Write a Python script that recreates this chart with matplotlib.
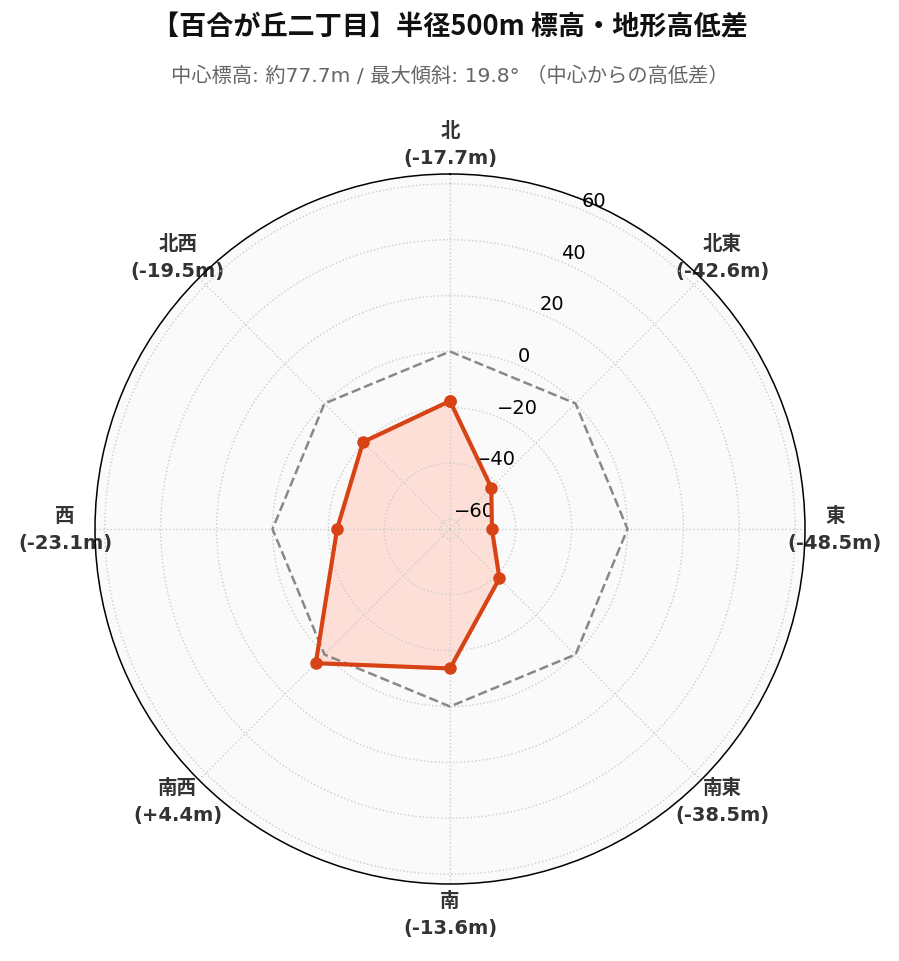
import numpy as np
import matplotlib
matplotlib.use("Agg")
import matplotlib.pyplot as plt

plt.rcParams['font.family'] = ['Noto Sans CJK JP', 'DejaVu Sans']

directions = ["北", "北東", "東", "南東", "南", "南西", "西", "北西"]
diffs = [-17.7, -42.6, -48.5, -38.5, -13.6, 4.4, -23.1, -19.5]
rticks = [-60, -40, -20, 0, 20, 40, 60]
r_min, r_max = -63.5, 63.5
title = "【百合が丘二丁目】半径500m 標高・地形高低差"
subtitle = "中心標高: 約77.7m / 最大傾斜: 19.8° （中心からの高低差）"

W, H = 899, 962
fig = plt.figure(figsize=(W / 100, H / 100), dpi=100)
ax = fig.add_axes([95 / W, 77 / H, 710 / W, 710 / H], projection='polar')
ax.set_facecolor('#fafafa')
ax.set_theta_zero_location('N')
ax.set_theta_direction(-1)

n = len(directions)
theta = np.linspace(0, 2 * np.pi, n, endpoint=False)
tc = np.concatenate([theta, theta[:1]])
vc = np.concatenate([diffs, diffs[:1]])

ax.fill(tc, vc, color='#fddfd7', zorder=1, linewidth=0)
ax.plot(tc, np.zeros_like(tc), linestyle='--', color='#888888', linewidth=1.8, zorder=3)
ax.plot(tc, vc, color='#d84315', linewidth=3.0, marker='o', markersize=8, zorder=4)

ax.set_ylim(r_min, r_max)
ax.set_yticks(rticks)
ax.set_rlabel_position(22.5)
ax.tick_params(axis='y', labelsize=14)
for lab in ax.get_yticklabels():
    lab.set_fontfamily('DejaVu Sans')

labels = [f"{d}\n({v:+.1f}m)" if v > 0 else f"{d}\n({v:.1f}m)" for d, v in zip(directions, diffs)]
ax.set_xticks(theta)
ax.set_xticklabels(labels, fontsize=14, fontweight='bold', color='#333333', linespacing=1.55,
                   family=['DejaVu Sans', 'Noto Sans CJK JP'])
ax.tick_params(axis='x', pad=11)

ax.grid(True, color='#cccccc', linestyle=':', linewidth=1.0)
ax.spines['polar'].set_color('black')
ax.spines['polar'].set_linewidth(1.1)

fig.text(0.5, 1 - 27 / H, title, ha='center', va='center', fontsize=19.5, fontweight='bold', color='#111111')
fig.text(0.5, 1 - 76 / H, subtitle, ha='center', va='center', fontsize=14.6, color='#666666',
         family=['DejaVu Sans', 'Noto Sans CJK JP'])

fig.savefig('out.png', dpi=100, facecolor='white')
